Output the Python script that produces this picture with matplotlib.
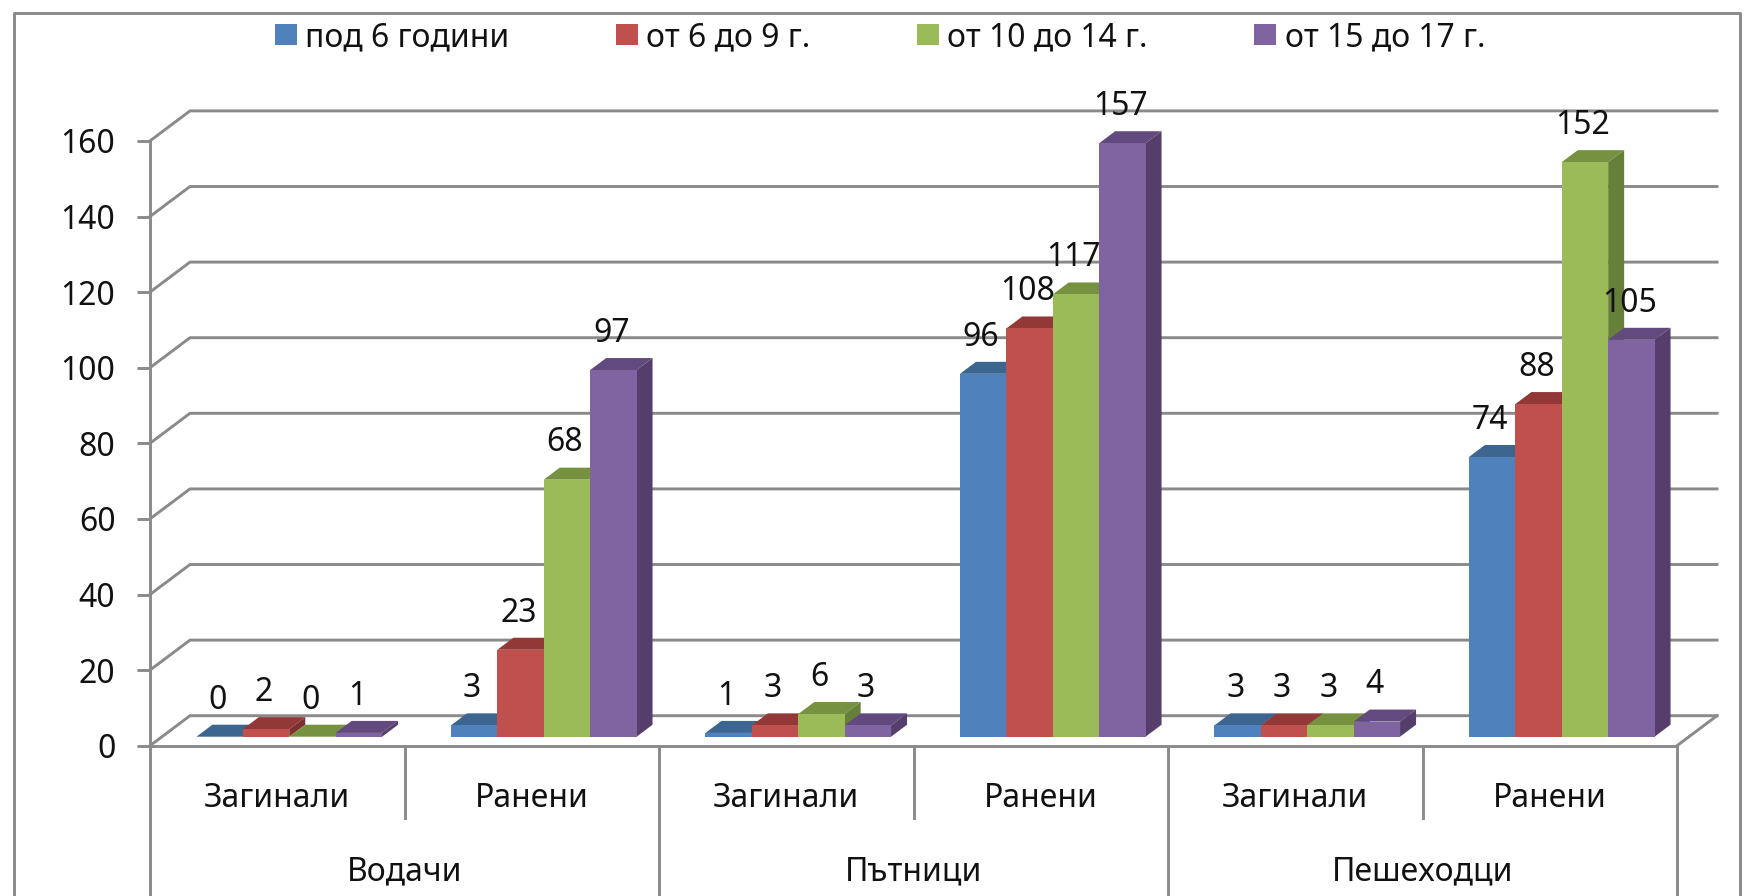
import matplotlib

matplotlib.use("Agg")
import matplotlib.pyplot as plt
from matplotlib.lines import Line2D
from matplotlib.patches import Polygon

plt.rcParams["font.family"] = ["Noto Sans", "DejaVu Sans"]

W, H = 1754, 896
GRAY = "#8a8a8a"
LW = 2.1

groups = ["Водачи", "Пътници", "Пешеходци"]
categories = ["Загинали", "Ранени", "Загинали", "Ранени", "Загинали", "Ранени"]
series_names = ["под 6 години", "от 6 до 9 г.", "от 10 до 14 г.", "от 15 до 17 г."]
under_6 = [0, 3, 1, 96, 3, 74]
from_6_to_9 = [2, 23, 3, 108, 3, 88]
from_10_to_14 = [0, 68, 6, 117, 3, 152]
from_15_to_17 = [1, 97, 3, 157, 4, 105]
y_ticks = [0, 20, 40, 60, 80, 100, 120, 140, 160]

all_series = [under_6, from_6_to_9, from_10_to_14, from_15_to_17]
front_colors = ["#4f81bd", "#c0504d", "#9bbb59", "#8064a2"]
top_colors = ["#3c6590", "#923836", "#76913f", "#624a7e"]
side_colors = ["#335678", "#7f2f2d", "#66803a", "#553e6c"]

fig = plt.figure(figsize=(W / 100, H / 100), dpi=100)
ax = fig.add_axes([150 / W, 1 - 745.7 / H, (1677 - 150) / W, (745.7 - 140.9) / H])
ax.set_xlim(0, 6)
ax.set_ylim(0, 160)
ax.patch.set_visible(False)

# depth of the fake 3d floor, in data units
DX = 40 / (1527 / 6)
DY = 30 / 3.78


def skew(x, y, d):
    return x + d * DX, y + d * DY


# back wall grid and the slanted lines
for v in y_ticks:
    x0, y0 = skew(0, v, 1)
    x1, y1 = skew(6, v, 1)
    ax.plot([0, x0, x1], [v, y0, y1], color=GRAY, lw=LW, clip_on=False, zorder=1)
x1, y1 = skew(6, 0, 1)
ax.plot([6, x1], [0, y1], color=GRAY, lw=LW, clip_on=False, zorder=1)

# bars
bar_w = 46.4 / (1527 / 6)
d_front, d_back = 0.3, 0.7
handles = []
for i, vals in enumerate(all_series):
    xs = []
    for c, v in enumerate(vals):
        left = c + (1 - 4 * bar_w) / 2 + i * bar_w
        xs.append(left + d_front * DX)
        right = left + bar_w
        top = Polygon(
            [skew(left, v, d_front), skew(right, v, d_front), skew(right, v, d_back), skew(left, v, d_back)],
            fc=top_colors[i], ec="none", clip_on=False, zorder=3 + i,
        )
        side = Polygon(
            [skew(right, 0, d_front), skew(right, v, d_front), skew(right, v, d_back), skew(right, 0, d_back)],
            fc=side_colors[i], ec="none", clip_on=False, zorder=3 + i,
        )
        ax.add_patch(top)
        ax.add_patch(side)
        ax.text(
            left + d_front * DX + bar_w / 2 - 0.008, v + d_front * DY + 9.7, str(v),
            ha="center", va="center", fontsize=23, color="#111111", zorder=20,
        )
    bars = ax.bar(
        xs, [v for v in vals], bar_w, bottom=d_front * DY, align="edge",
        color=front_colors[i], clip_on=False, zorder=3.5 + i, label=series_names[i],
    )
    handles.append(bars)

# axes
for name, sp in ax.spines.items():
    sp.set_visible(name == "left")
ax.spines["left"].set_color(GRAY)
ax.spines["left"].set_linewidth(LW)
ax.set_yticks(y_ticks)
ax.set_xticks([])
ax.tick_params(axis="y", length=9.4, width=LW, color=GRAY, pad=15.5, labelsize=23, labelcolor="#111111")

# two level category axis under the floor
ax.plot([0, 6], [0, 0], color=GRAY, lw=LW, clip_on=False, zorder=2)
for c in range(7):
    low = -39.5 if c % 2 == 0 else -19.2
    ax.plot([c, c], [0, low], color=GRAY, lw=LW, clip_on=False, zorder=2)
for c, name in enumerate(categories):
    ax.text(c + 0.5, -13.9, name, ha="center", va="center", fontsize=23, color="#111111")
for g, name in enumerate(groups):
    ax.text(2 * g + 1, -33.3, name, ha="center", va="center", fontsize=23, color="#111111")

ax.legend(
    handles=handles, ncol=4, frameon=False, fontsize=23, loc="upper left",
    bbox_to_anchor=(275 / W, 1 - 21 / H), bbox_transform=fig.transFigure,
    borderpad=0, borderaxespad=0, handlelength=0.69, handleheight=0.62,
    handletextpad=0.26, columnspacing=3.33, labelcolor="#111111",
)

# outer chart border, runs off the bottom of the picture
fx = [13.5 / W, 13.5 / W, 1740 / W, 1740 / W]
fy = [0, 1 - 13.5 / H, 1 - 13.5 / H, 0]
fig.add_artist(Line2D(fx, fy, color=GRAY, lw=LW))

fig.savefig("out.png", dpi=100)
